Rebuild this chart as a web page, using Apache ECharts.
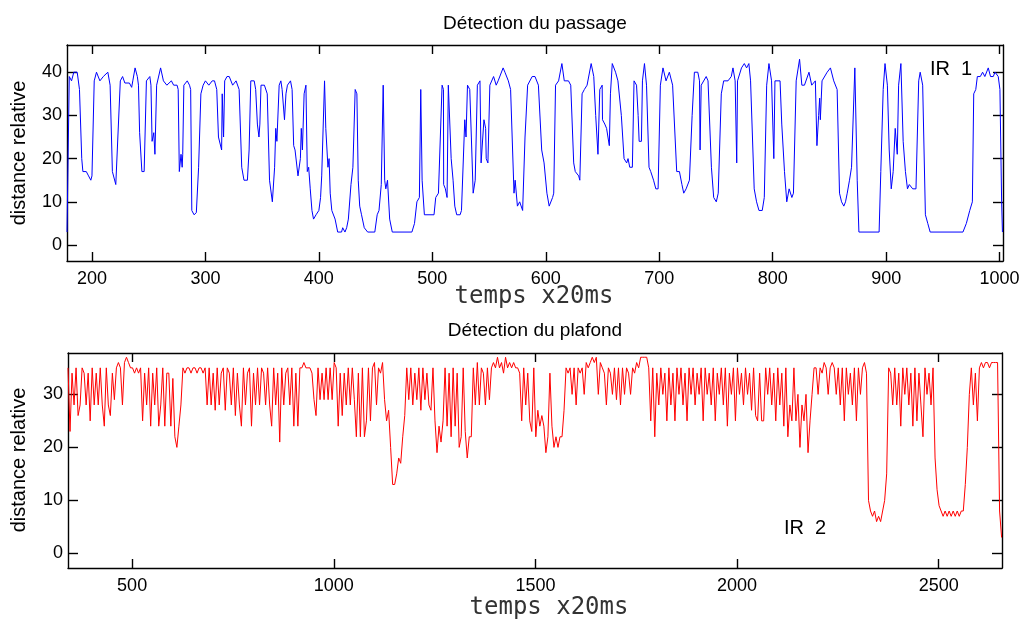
<!DOCTYPE html>
<html>
<head>
<meta charset="utf-8">
<script src="https://cdn.jsdelivr.net/npm/echarts@6/dist/echarts.min.js"></script>
<style>
html,body{margin:0;padding:0;background:#fff;}
#c{width:1027px;height:621px;}
</style>
</head>
<body>
<div id="c"></div>
<script>
// ---------- DATA ----------
const title1 = 'Détection du passage';
const title2 = 'Détection du plafond';
const xName = 'temps x20ms';
const yName = 'distance relative';
const label1 = 'IR  1';
const label2 = 'IR  2';

const topXTicks = [200, 300, 400, 500, 600, 700, 800, 900, 1000];
const topYTicks = [0, 10, 20, 30, 40];
const botXTicks = [500, 1000, 1500, 2000, 2500];
const botYTicks = [0, 10, 20, 30];

// IR 1 (blue) : sample index and value
const blueX = [178,180,182,184,187,189,191,192,195,197,199,200,202,204,207,210,214,216,218,221,
225,227,229,233,235,236,238,240,241,242,244,246,248,251,252,253,254.5,255.5,257,260.5,
263,266,270,272,275,276,277,278.5,279.5,280,281,284,286,287,288,290,292,294,296,298,
300,303,306,308,310,311.5,313,314.3,314.8,316,317,319,321,324,327,329.7,332,334,337,338.5,
340,343,344.3,345.8,347.2,348,349,352,354.5,356.5,359,361,362,363,365,366.5,367.6,369.7,371,372.3,
375,376.4,377.8,379,381.6,383.7,384.5,385.5,387,388.6,389.8,391,392.4,393.9,395.3,397.5,400,401.5,402.5,403.5,
405,406.1,408,409,410,411.4,414.3,416.6,420,421,423,424.5,426,428.3,430,432,433.5,434.7,436,437.6,
440,443,449.3,451.4,453,455,456.7,458,459,460.5,462.4,464.7,482,484.3,486.4,488.6,489.8,491,493,501.5,
503,505.4,508.6,509.8,510,511.5,513,514.1,515.8,516.6,518.3,519.8,521.5,524.5,525.7,527,528.6,529.7,531,533,
534.4,536,537.8,539.7,542,543,544,545.5,547,547.5,549,550.7,554,556.3,558,562.4,564,567,569,572,
573,575,577,579.6,581.7,584,588,590.5,593.5,596.4,598.5,601,603,606,607,608.6,611.3,614.2,616.3,620,
622,624.6,626,629,630,632,634,636.4,640,642.3,644,646,647.6,649.7,650,652,653.6,654.8,656,657,
658.6,661.5,663.6,665.3,666.6,669,671.3,672.5,674,676.3,677.8,680,681.4,682.3,684.3,685.2,687,688.8,691,692.5,
695,697,699,701,703.3,706,708.9,711.8,715.4,717.8,720,721.6,723.7,726.6,729,731,734,735.5,736,737,
741.4,743,746,748,750.3,752,754.7,756.8,760.6,763.5,765,766.9,768,768.3,769,772.5,775,777,779,780.5,
783.7,785.8,787.9,790.8,792.6,794.7,796.7,799,801,802,806.5,808,810.4,812.4,814.5,816.9,818.3,820.7,822.2,823.7,
825.7,828,832,834.4,837.6,839,840.5,841.4,842,843.5,848,850.9,853.8,856.8,858.9,860.7,862.7,864.2,865.7,867.7,
869.5,872.4,874.5,876,893.8,895.3,897.4,899,901.1,902.7,904.5,906.2,908,909.8,911,913,915,917,918.8,920.4,
923.4,926.3,928.7,930,932.2,934.6,936.7,938.8,967.7,970.7,973.7,976,977.2,979,980.4,983,985,987,990,992,
994.4,996,998.8,1000.3,1001.8,1002.5];
const blueY = [3,39,38,40,40,36,20,17,17,16,15,16,38,40,38,39,40,37,17,14,
38,39,37.5,37.5,36.5,38,41,39,37,26,17,17,38,39,37,24,26,21,37,41,
38,37,38,37,37,36,17,21,18,21,37,38,37,36,8,7,7.5,18,35,37,
38,37,38,38,36,25,25,22,35,25,38,39,39,37,38,36,18,15,15,22,
38,38,36,28,25,28,37,37,35,15,10,18,27,24,37,38,36,29,35,37,
38,36,23,22,16,20,27,22,35,37,17,18,13,8,6,7,8,11,16,16,
38,27,18,20,12,8,6,3,3,4,3,4,6,14,18,36,35,15,9,7,
4,3,3,7,8,14,37,15,13,15,6,3,3,5,10,11,36,15,7,7,
11,12,37,36,14,13,11,37,37,20,15,9,7,7,8,8,29,25,37,36,
25,12,15,37,38,19,19,29,27,20,19,37,39,37,38,41,40,38,36,12,
15,9,10,8,25,37,39,39,37,22,19,12,9,11,12,37,38,42,38,38,
37,19,17,16,15,35,36,37,42,39,30,21,36,37,29,28,27,25,23,35,
42,40,38,38,30,20,19,20,18,18,38,37,30,24,24,38,42,37,18,17,
15,13,13,37,41,38,40,37,17,17,14,12,13,15,30,40,40,38,22,37,
39,38,18,11,10,12,35,38,38,39,41,38,38,19,38,41,42,41,42,38,
13,10,8,8,11,37,42,38,20,38,38,28,17,10,13,11,12,38,38,43,
37,37,40,37,38,23,30,34,29,38,40,41,38,36,12,10,9,10,12,15,
18,41,15,3,3,17,36,42,37,22,13,17,27,21,37,42,24,17,13,14,
13,13,38,40,37,7,5,3,3,5,8,10,35,36,39,39,40,39,41,39,
39,40,39,36,10,3];

// IR 2 (red) : one reading every redStep samples, starting at redStart
const redStart = 341;
const redStep = 5;
const redY = [
35,23,34,28,35,26,28,35,34,28,
34,25,35,28,34,28,35,28,24,35,
28,26,34,29,35,36,35,28,36,37,
36,35,35,34,35,34,35,25,34,28,
35,24,34,28,35,24,28,35,24,34,
34,24,33,22,20,24,28,35,34,35,
35,34,35,35,34,35,35,34,35,28,
35,28,34,27,35,28,34,35,27,35,
34,28,35,26,34,28,24,35,28,34,
35,24,34,28,35,28,35,34,28,35,
28,24,35,28,34,21,35,28,34,35,
28,35,24,34,24,35,35,36,35,35,
35,34,29,26,35,29,34,29,35,29,
35,29,36,35,24,34,26,34,28,35,
28,35,29,22,34,22,35,22,25,35,
25,35,36,28,35,34,36,29,25,27,
20,13,13,15,18,17,22,26,35,29,
35,28,34,29,35,27,35,29,34,28,
27,35,25,19,24,21,25,35,24,34,
22,35,24,34,20,22,35,23,18,22,
22,35,28,36,28,35,34,28,35,29,
35,36,35,37,35,36,34,37,35,36,
35,36,35,35,34,25,35,28,34,25,
23,35,22,27,24,26,24,19,22,34,
24,20,22,20,22,22,27,35,34,35,
30,35,28,35,34,35,30,36,35,36,
37,36,37,30,36,35,34,28,35,34,
30,35,29,35,28,35,30,35,34,30,
35,34,36,35,37,37,37,37,35,25,
35,22,34,28,35,30,34,25,35,28,
34,25,35,30,35,28,34,25,35,30,
35,28,34,30,35,25,35,30,34,28,
35,25,34,30,35,28,35,24,34,30,
35,25,35,30,34,28,35,30,34,27,
35,26,25,34,25,25,35,30,35,28,
34,25,35,28,34,24,35,22,28,25,
35,25,30,20,28,25,30,19,25,30,
35,35,30,35,34,36,35,30,35,36,
35,30,35,28,35,25,35,30,34,28,
35,25,35,30,35,36,34,10,8,7,
8,6,7,6,8,10,15,35,34,28,
35,28,34,24,35,30,35,28,34,24,
35,25,34,28,22,35,30,34,28,35,
18,12,9,8,7,8,7,8,7,8,
7,8,7,8,8,13,20,30,35,28,
34,25,35,36,35,36,36,35,36,36,
36,36,8,3];

// ---------- CHART ----------
const blueData = blueX.map((x, i) => [x, blueY[i]]);
const redData = redY.map((v, i) => [redStart + i * redStep, v]);

const FONT = 'Liberation Sans, Arial, Helvetica, sans-serif';
const BLACK = '#000';
const plain = v => String(v);

function xAx(grid, min, max, ticks, pos) {
  const main = pos === 'bottom';
  return {
    type: 'value', gridIndex: grid, min: min, max: max, position: pos,
    axisLine: { show: true, onZero: false, lineStyle: { color: BLACK, width: 1.4 } },
    axisTick: { show: true, inside: true, length: 9, customValues: ticks, lineStyle: { color: BLACK, width: 1.4 } },
    axisLabel: { show: main, customValues: ticks, formatter: plain, color: BLACK, fontSize: 18, fontFamily: FONT, margin: 9 },
    splitLine: { show: false }
  };
}
function yAx(grid, min, max, ticks, pos) {
  const main = pos === 'left';
  return {
    type: 'value', gridIndex: grid, min: min, max: max, position: pos,
    axisLine: { show: true, onZero: false, lineStyle: { color: BLACK, width: 1.4 } },
    axisTick: { show: true, inside: true, length: 10, customValues: ticks, lineStyle: { color: BLACK, width: 1.4 } },
    axisLabel: { show: main, customValues: ticks, formatter: plain, color: BLACK, fontSize: 18, fontFamily: FONT, margin: 5 },
    splitLine: { show: false }
  };
}

function txt(t, x, y, size, opts) {
  return Object.assign({
    type: 'text', x: x, y: y, silent: true,
    style: Object.assign({ text: t, fill: BLACK, fontSize: size, fontFamily: FONT,
      align: 'center', verticalAlign: 'middle' }, (opts && opts.style) || {})
  }, (opts && opts.el) || {});
}

const chart = echarts.init(document.getElementById('c'), null, { renderer: 'canvas' });
chart.setOption({
  animation: false,
  backgroundColor: '#fff',
  grid: [
    { left: 67, top: 45, width: 936, height: 216, containLabel: false },
    { left: 68, top: 353, width: 934, height: 215, containLabel: false }
  ],
  xAxis: [
    xAx(0, 178, 1003, topXTicks, 'bottom'),
    xAx(0, 178, 1003, topXTicks, 'top'),
    xAx(1, 341, 2657, botXTicks, 'bottom'),
    xAx(1, 341, 2657, botXTicks, 'top')
  ],
  yAxis: [
    yAx(0, -3.7, 46.3, topYTicks, 'left'),
    yAx(0, -3.7, 46.3, topYTicks, 'right'),
    yAx(1, -2.75, 37.8, botYTicks, 'left'),
    yAx(1, -2.75, 37.8, botYTicks, 'right')
  ],
  series: [
    { type: 'line', xAxisIndex: 0, yAxisIndex: 0, data: blueData, showSymbol: false,
      lineStyle: { color: '#0000ff', width: 1 }, itemStyle: { color: '#0000ff' } },
    { type: 'line', xAxisIndex: 2, yAxisIndex: 2, data: redData, showSymbol: false,
      lineStyle: { color: '#ff0000', width: 1 }, itemStyle: { color: '#ff0000' } }
  ],
  graphic: [
    txt(title1, 535, 24, 19),
    txt(title2, 535, 331, 19),
    txt(xName, 534, 297, 24, { style: { fontFamily: 'DejaVu Sans Mono', fill: '#333' } }),
    txt(xName, 549, 608, 24, { style: { fontFamily: 'DejaVu Sans Mono', fill: '#333' } }),
    txt(yName, 19, 153, 20, { el: { rotation: Math.PI / 2 } }),
    txt(yName, 19, 460, 20, { el: { rotation: Math.PI / 2 } }),
    txt(label1, 930, 69, 20, { style: { align: 'left' } }),
    txt(label2, 784, 528, 20, { style: { align: 'left' } })
  ]
});
</script>
</body>
</html>
